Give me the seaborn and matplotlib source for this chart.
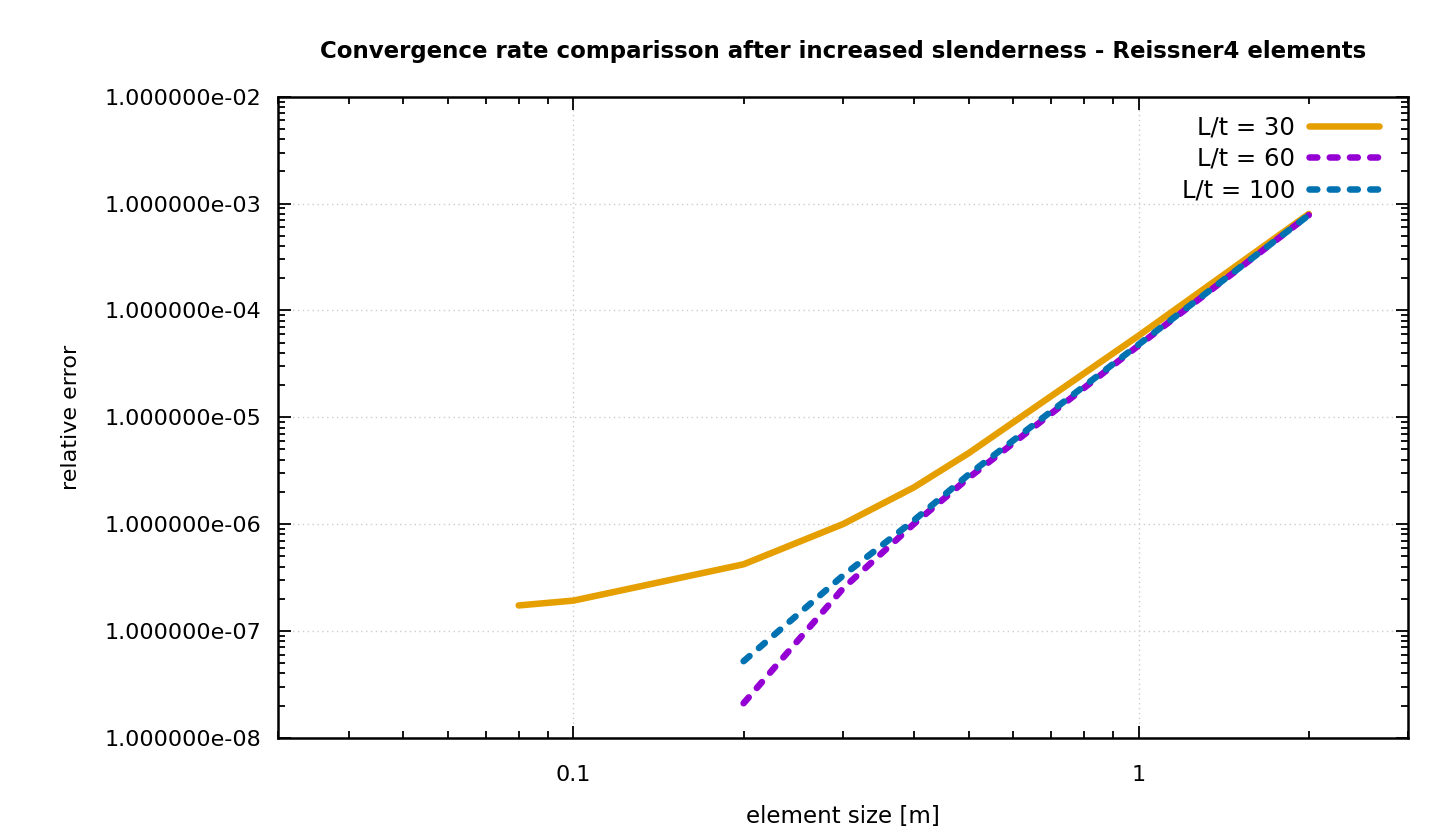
import matplotlib
matplotlib.use("Agg")
import matplotlib.pyplot as plt
import matplotlib.ticker as mticker
import seaborn as sns
import pandas as pd

# element sizes [m] and relative errors
size_30 = [0.08, 0.1, 0.2, 0.3, 0.4, 0.5, 1.0, 2.0]
err_30 = [1.73e-7, 1.92e-7, 4.2e-7, 1.0e-6, 2.2e-6, 4.6e-6, 5.8e-5, 8.0e-4]

size_60 = [0.2, 0.3, 0.4, 0.5, 1.0, 2.0]
err_60 = [2.1e-8, 2.5e-7, 1.0e-6, 2.7e-6, 4.7e-5, 7.8e-4]

size_100 = [0.2, 0.3, 0.4, 0.5, 1.0, 2.0]
err_100 = [5.2e-8, 3.3e-7, 1.08e-6, 2.9e-6, 4.8e-5, 7.8e-4]

labels = ["L/t = 30", "L/t = 60", "L/t = 100"]
colors = ["#E69F00", "#9400D3", "#0072B2"]
x_ticks = [0.1, 1.0]
y_ticks = [1e-8, 1e-7, 1e-6, 1e-5, 1e-4, 1e-3, 1e-2]

sns.set_style("ticks")
plt.rcParams['font.family'] = ['DejaVu Sans']
plt.rcParams['text.color'] = 'black'
plt.rcParams['axes.labelcolor'] = 'black'

fig = plt.figure(figsize=(14.4, 8.27), dpi=100)
ax = fig.add_axes([0.193, 0.108, 0.785, 0.775])

series = [(size_30, err_30), (size_60, err_60), (size_100, err_100)]
for i, (xs, ys) in enumerate(series):
    df = pd.DataFrame({'size': xs, 'err': ys})
    line_kw = dict(color=colors[i], linewidth=4.7, label=labels[i],
                   estimator=None, sort=False, ax=ax)
    if i == 0:
        sns.lineplot(data=df, x='size', y='err', solid_capstyle='round', **line_kw)
    else:
        sns.lineplot(data=df, x='size', y='err', dashes=False, **line_kw)
        ax.lines[-1].set_dashes((1.2, 1.9))
        ax.lines[-1].set_dash_capstyle('round')

ax.set_xscale('log')
ax.set_yscale('log')
ax.set_xlim(0.03, 3.0)
ax.set_ylim(1e-8, 1e-2)

ax.xaxis.set_major_locator(mticker.FixedLocator(x_ticks))
ax.xaxis.set_minor_locator(mticker.LogLocator(base=10, subs=range(2, 10)))
ax.xaxis.set_major_formatter(mticker.FuncFormatter(lambda v, p: f"{v:g}"))
ax.xaxis.set_minor_formatter(mticker.NullFormatter())
ax.yaxis.set_major_locator(mticker.FixedLocator(y_ticks))
ax.yaxis.set_minor_locator(mticker.LogLocator(base=10, subs=range(2, 10), numticks=10))
ax.yaxis.set_major_formatter(mticker.FuncFormatter(lambda v, p: f"{v:e}"))
ax.yaxis.set_minor_formatter(mticker.NullFormatter())

ax.tick_params(which='both', direction='in', top=True, right=True, width=1.3,
               colors='black', labelcolor='black')
ax.tick_params(which='major', length=9, labelsize=16)
ax.tick_params(axis='y', which='major', pad=12)
ax.tick_params(axis='x', which='major', pad=20)
ax.tick_params(which='minor', length=5)
for s in ax.spines.values():
    s.set_linewidth(1.8)
    s.set_color('black')

ax.grid(which='major', color='#cccccc', linestyle=(0, (1, 2.5)), linewidth=1)

ax.set_xlabel('element size [m]', fontsize=16.5, labelpad=14)
ax.set_ylabel('relative error', fontsize=16, labelpad=17)
ax.set_title('Convergence rate comparisson after increased slenderness - Reissner4 elements',
             fontsize=16.5, fontweight='bold', pad=28, color='black')

ax.legend(loc='upper right', bbox_to_anchor=(1.0, 1.017), frameon=False,
          markerfirst=False, fontsize=17.5, handlelength=2.9, handletextpad=0.55,
          labelspacing=0.32, borderaxespad=0.9, borderpad=0.3)

fig.savefig('out.png', dpi=100)
